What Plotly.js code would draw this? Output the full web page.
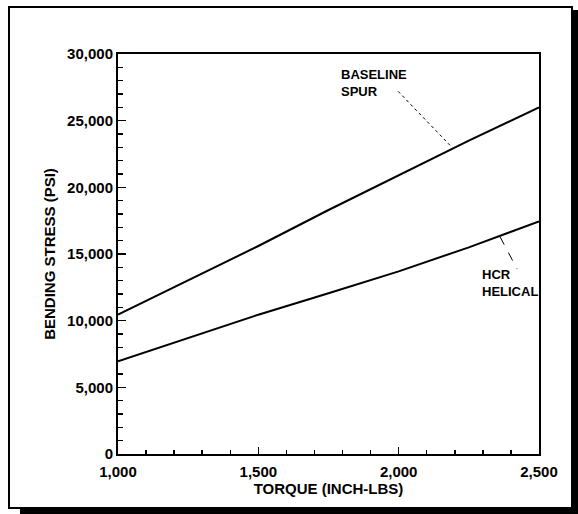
<!DOCTYPE html>
<html>
<head>
<meta charset="utf-8">
<script src="https://cdn.plot.ly/plotly-3.0.1.min.js"></script>
<style>
  html, body { margin: 0; padding: 0; background: #fff; }
  #chart { width: 578px; height: 514px; }
</style>
</head>
<body>
<div id="chart"></div>
<script>
// Data
const torque = [1000, 1250, 1500, 1750, 2000, 2250, 2500];
const baselineSpur = [10450, 13000, 15600, 18300, 20900, 23500, 26000];
const hcrHelical = [6950, 8700, 10450, 12050, 13700, 15500, 17450];

const xTickVals = [1000, 1500, 2000, 2500];
const yTickVals = [0, 5000, 10000, 15000, 20000, 25000, 30000];

const font = 'Arial, "Liberation Sans", sans-serif';

const traces = [
  { x: torque, y: baselineSpur, mode: 'lines', name: 'BASELINE SPUR',
    line: { color: '#000', width: 2 }, showlegend: false, hoverinfo: 'skip' },
  { x: torque, y: hcrHelical, mode: 'lines', name: 'HCR HELICAL',
    line: { color: '#000', width: 2 }, showlegend: false, hoverinfo: 'skip' }
];

const layout = {
  width: 578, height: 514,
  margin: { l: 118, r: 39, t: 54, b: 60 },
  paper_bgcolor: '#fff', plot_bgcolor: '#fff',
  font: { family: font, color: '#000', size: 15, weight: 'bold' },
  showlegend: false,
  xaxis: {
    range: [1000, 2500], tickvals: xTickVals, tickformat: ',d',
    showgrid: false, zeroline: false, showline: true, linecolor: '#000', linewidth: 2,
    mirror: true, ticks: 'inside', ticklen: 7, tickwidth: 1.5, tickcolor: '#000',
    ticklabelstandoff: 3,
    minor: { dtick: 100, ticks: 'inside', ticklen: 4, tickwidth: 1.5, tickcolor: '#000', showgrid: false },
    tickfont: { family: font, size: 15, color: '#000', weight: 'bold' },
    title: { text: 'TORQUE (INCH-LBS)', font: { family: font, size: 15, color: '#000', weight: 'bold' }, standoff: 3 }
  },
  yaxis: {
    range: [0, 30000], tickvals: yTickVals, tickformat: ',d',
    showgrid: false, zeroline: false, showline: true, linecolor: '#000', linewidth: 2,
    mirror: true, ticks: 'inside', ticklen: 8, tickwidth: 1.5, tickcolor: '#000',
    minor: { dtick: 1000, ticks: 'inside', ticklen: 5, tickwidth: 1.5, tickcolor: '#000', showgrid: false },
    tickfont: { family: font, size: 15, color: '#000', weight: 'bold' },
    title: { text: 'BENDING STRESS (PSI)', font: { family: font, size: 15, color: '#000', weight: 'bold' }, standoff: 8 }
  },
  annotations: [
    { x: 1787, y: 27800, xref: 'x', yref: 'y', text: 'BASELINE<br>SPUR', showarrow: false,
      xanchor: 'left', yanchor: 'middle', align: 'left',
      font: { family: font, size: 13, color: '#000', weight: 'bold' } },
    { x: 2290, y: 12850, xref: 'x', yref: 'y', text: 'HCR<br>HELICAL', showarrow: false,
      xanchor: 'left', yanchor: 'middle', align: 'left',
      font: { family: font, size: 13, color: '#000', weight: 'bold' } }
  ],
  shapes: [
    // leader lines
    { type: 'line', xref: 'x', yref: 'y', x0: 1998, y0: 27200, x1: 2183, y1: 23150,
      line: { color: '#000', width: 1, dash: 'dot' } },
    { type: 'line', xref: 'x', yref: 'y', x0: 2361, y0: 16300, x1: 2422, y1: 13870,
      line: { color: '#000', width: 1, dash: 'dash' } },
    // outer frame
    { type: 'rect', xref: 'paper', yref: 'paper', x0: -0.2589, x1: 1.0784, y0: -0.135, y1: 1.1175,
      line: { color: '#000', width: 2 }, fillcolor: 'rgba(0,0,0,0)' },
    // drop shadow, right and bottom
    { type: 'rect', xref: 'paper', yref: 'paper', x0: 1.0784, x1: 1.1, y0: -0.16, y1: 1.11,
      line: { width: 0 }, fillcolor: '#000' },
    { type: 'rect', xref: 'paper', yref: 'paper', x0: -0.2328, x1: 1.1, y0: -0.16, y1: -0.135,
      line: { width: 0 }, fillcolor: '#000' }
  ]
};

Plotly.newPlot('chart', traces, layout, { staticPlot: true, displayModeBar: false });
</script>
</body>
</html>
